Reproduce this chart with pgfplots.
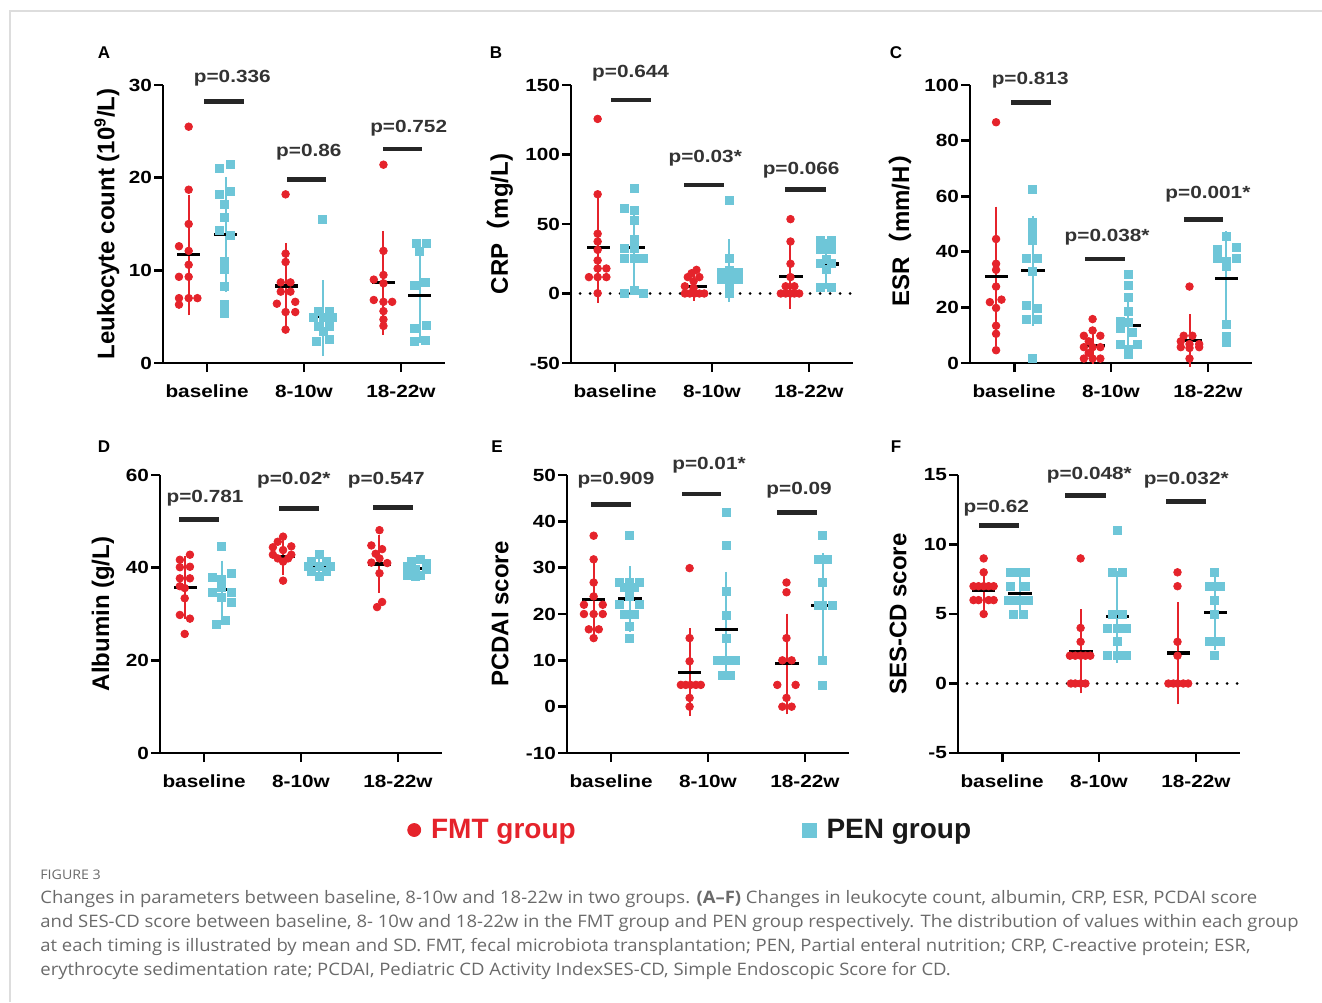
\documentclass[border=0pt]{standalone}
\usepackage{fontspec}
\setmainfont{Liberation Sans}
\newfontfamily\chartfont[FakeStretch=1.18]{Liberation Sans}
\newfontfamily\capfont[FakeStretch=1.075]{Open Sans}
\newfontfamily\cjk{Noto Sans CJK SC}
\usepackage{pgfplots}
\pgfplotsset{compat=1.18}
\definecolor{fmtred}{HTML}{E5232B}
\definecolor{penblue}{HTML}{6EC6D8}
\definecolor{ptext}{HTML}{333333}
\definecolor{capgray}{HTML}{6A6A6A}
\definecolor{framegray}{HTML}{DDDDDD}
\pgfplotsset{
 panel/.style={scale only axis, width=141pt, height=139pt,
  axis x line=bottom, axis y line=left,
  axis line style={-, line width=1.4pt, black},
  xmin=-0.455, xmax=2.455, xtick={0,1,2}, xticklabels={baseline,8-10w,18-22w},
  tick align=outside, major tick length=4.5pt,
  every tick/.style={black, line width=1.4pt},
  ticklabel style={font=\chartfont\bfseries\fontsize{8.8}{10}\selectfont, text=black},
  xticklabel style={yshift=-3pt}, yticklabel style={xshift=2.5pt},
  clip=false},
 fmtpts/.style={only marks, mark=*, mark size=1.9pt, color=fmtred},
 penpts/.style={only marks, mark=square*, mark size=2.0pt, color=penblue},
 sdbar/.style={draw=none, mark=none, error bars/.cd, y dir=both, y explicit,
  error bar style={draw=#1, line width=1pt}, error mark options={draw=#1, line width=1pt, mark size=3.5pt}},
 meanbar/.style={draw=none, mark=none, error bars/.cd, x dir=both, x explicit,
  error mark=none, error bar style={draw=black, line width=1.6pt}},
 sigbar/.style={draw=none, mark=none, error bars/.cd, x dir=both, x explicit,
  error mark=none, error bar style={draw=black!85, line width=2.4pt}},
 zeroline/.style={black, line width=1.5pt, dash pattern=on 0pt off 5pt, line cap=round},
}
\newcommand\pv[3]{\node[font=\chartfont\bfseries\fontsize{8.8}{10}\selectfont, text=ptext] at (axis cs:#1,#2) {#3};}
\begin{document}
\begin{tikzpicture}
\begin{scope}[x=0.5pt,y=-0.5pt]
\path[use as bounding box] (0,0) rectangle (1322,1002);
\draw[framegray, line width=1pt] (10,1002) -- (10,11) -- (1322,11);
\end{scope}

% ---------------- A
\begin{axis}[panel, at={(81.5pt,-181.5pt)}, anchor=south west,
 ymin=0, ymax=30, ytick={0,10,20,30}, yticklabels={0,10,20,30}]
\addplot[fmtpts] coordinates {(-0.19,25.5) (-0.19,18.7) (-0.19,15.0) (-0.29,12.6) (-0.19,12.1) (-0.19,10.6) (-0.29,9.3) (-0.19,9.3) (-0.29,7.0) (-0.19,7.0) (-0.10,7.0) (-0.29,6.3)
 (0.81,18.2) (0.81,11.8) (0.81,10.9) (0.76,8.7) (0.86,8.7) (0.76,7.7) (0.86,7.7) (0.72,6.4) (0.91,6.6) (0.81,5.5) (0.91,5.5) (0.81,3.6)
 (1.82,21.4) (1.82,12.1) (1.82,9.5) (1.72,9.0) (1.82,8.6) (1.72,6.8) (1.91,6.6) (1.82,6.6) (1.82,5.6) (1.82,4.7) (1.82,4.0)};
\addplot[penpts] coordinates {(0.13,21.0) (0.24,21.4) (0.13,18.2) (0.24,18.5) (0.18,17.1) (0.18,15.7) (0.13,14.3) (0.24,13.8) (0.18,11.0) (0.18,10.1) (0.18,8.3) (0.18,6.3) (0.18,5.3)
 (1.19,15.5) (1.15,5.6) (1.26,5.6) (1.10,4.9) (1.20,4.9) (1.29,4.9) (1.15,4.0) (1.26,4.0) (1.20,3.4) (1.13,2.3) (1.26,2.5)
 (2.16,12.9) (2.26,12.9) (2.19,12.0) (2.25,8.7) (2.14,8.4) (2.26,4.1) (2.14,3.7) (2.25,2.4) (2.14,2.3)};
\addplot[sdbar=fmtred] coordinates {(-0.19,11.7) += (0,5.7) -= (0,5.8) (0.81,8.3) += (0,3.9) -= (0,3.7) (1.82,8.7) += (0,4.8) -= (0,4.9)};
\addplot[sdbar=penblue] coordinates {(0.19,13.9) += (0,5.4) -= (0,5.5) (1.20,5.0) += (0,3.2) -= (0,3.5) (2.20,7.3) += (0,4.2) -= (0,4.4)};
\addplot[meanbar] coordinates {(-0.19,11.7) +- (0.12,0) (0.82,8.3) +- (0.12,0) (1.82,8.7) +- (0.12,0) (0.19,13.9) +- (0.12,0) (1.18,5.0) +- (0.12,0) (2.195,7.3) +- (0.12,0)};
\addplot[sigbar] coordinates {(0.176,28.2) +- (0.207,0) (1.027,19.8) +- (0.205,0) (2.015,23.1) +- (0.203,0)};
\pv{0.26}{30.7}{p=0.336}\pv{1.05}{22.7}{p=0.86}\pv{2.08}{25.3}{p=0.752}
\end{axis}

% ---------------- B
\begin{axis}[panel, at={(285.5pt,-181.5pt)}, anchor=south west,
 ymin=-50, ymax=150, ytick={-50,0,50,100,150}, yticklabels={-50,0,50,100,150}]
\addplot[zeroline] coordinates {(-0.36,0) (2.455,0)};
\addplot[fmtpts] coordinates {(-0.18,125.6) (-0.18,71.4) (-0.18,43.0) (-0.18,37.4) (-0.18,31.4) (-0.18,23.8) (-0.18,18.0) (-0.09,18.0) (-0.27,11.8) (-0.18,11.8) (-0.09,11.8) (-0.18,0.2)
 (0.84,17.0) (0.79,14.6) (0.87,11.8) (0.75,11.8) (0.81,8.8) (0.72,5.2) (0.81,4.0) (0.72,0) (0.77,0) (0.82,0) (0.87,0) (0.92,0)
 (1.81,53.5) (1.81,37.4) (1.81,21.4) (1.81,11.8) (1.76,5.2) (1.85,5.2) (1.71,0) (1.76,0) (1.81,0) (1.85,0) (1.90,0)};
\addplot[penpts] coordinates {(0.195,75.3) (0.096,60.9) (0.195,59.5) (0.195,52.3) (0.195,38.6) (0.096,32.4) (0.195,32.4) (0.096,25.5) (0.195,25.5) (0.29,25.0) (0.195,2.2) (0.096,0) (0.29,0)
 (1.18,66.7) (1.18,25.0) (1.18,16.4) (1.10,15.4) (1.27,15.4) (1.10,10.5) (1.18,10.0) (1.27,10.5) (1.18,5.2) (1.18,0)
 (2.12,38.0) (2.23,38.0) (2.12,32.0) (2.23,32.0) (2.18,24.3) (2.12,22.0) (2.23,22.0) (2.18,17.0) (2.12,4.4) (2.23,4.4)};
\addplot[sdbar=fmtred] coordinates {(-0.18,33.2) += (0,34.9) -= (0,34.8) (0.81,5.1) += (0,5.3) -= (0,5.3) (1.81,12.1) += (0,18.2) -= (0,18.2)};
\addplot[sdbar=penblue] coordinates {(0.195,33.1) += (0,24.2) -= (0,24.4) (1.18,16.4) += (0,17.6) -= (0,17.3) (2.18,21.3) += (0,13.0) -= (0,13.1)};
\addplot[meanbar] coordinates {(-0.175,33.2) +- (0.12,0) (0.83,5.1) +- (0.12,0) (1.815,12.1) +- (0.12,0) (0.19,33.1) +- (0.12,0) (1.19,16.4) +- (0.12,0) (2.19,21.3) +- (0.12,0)};
\addplot[sigbar] coordinates {(0.165,139.2) +- (0.205,0) (0.918,78.1) +- (0.205,0) (1.966,74.6) +- (0.209,0)};
\pv{0.16}{158.4}{p=0.644}\pv{0.93}{97.3}{p=0.03*}\pv{1.92}{88.9}{p=0.066}
\end{axis}

% ---------------- C
\begin{axis}[panel, at={(485pt,-181.5pt)}, anchor=south west,
 ymin=0, ymax=100, ytick={0,20,40,60,80,100}, yticklabels={0,20,40,60,80,100}]
\addplot[fmtpts] coordinates {(-0.186,86.6) (-0.186,44.6) (-0.186,35.7) (-0.186,33.5) (-0.186,27.5) (-0.25,21.9) (-0.13,22.8) (-0.186,19.8) (-0.186,13.4) (-0.186,10.5) (-0.186,4.6)
 (0.81,15.8) (0.81,11.7) (0.72,9.8) (0.89,9.8) (0.77,7.8) (0.72,5.7) (0.81,5.7) (0.89,5.7) (0.77,3.6) (0.72,1.6) (0.81,1.6) (0.89,1.6)
 (1.81,27.5) (1.75,9.8) (1.84,9.8) (1.72,7.8) (1.91,6.8) (1.81,6.8) (1.72,5.7) (1.81,5.4) (1.91,5.7) (1.81,1.6)};
\addplot[penpts] coordinates {(0.19,62.6) (0.19,50.7) (0.19,47.9) (0.19,46.1) (0.19,44.1) (0.13,37.7) (0.245,37.7) (0.19,32.9) (0.13,20.7) (0.245,19.8) (0.13,15.8) (0.245,15.8) (0.19,1.6)
 (1.18,31.7) (1.18,27.8) (1.18,23.7) (1.18,18.6) (1.10,15.0) (1.18,14.6) (1.10,12.6) (1.22,11.0) (1.10,6.8) (1.27,6.8) (1.18,5.0) (1.18,3.0)
 (2.19,45.7) (2.10,41.0) (2.29,41.7) (2.10,37.7) (2.29,37.7) (2.19,36.5) (2.19,34.7) (2.19,13.8) (2.19,9.6) (2.19,7.5)};
\addplot[sdbar=fmtred] coordinates {(-0.186,31.2) += (0,22.5) -= (0,22.5) (0.81,6.3) += (0,4.1) -= (0,4.1) (1.81,8.1) += (0,6.9) -= (0,6.9)};
\addplot[sdbar=penblue] coordinates {(0.19,33.2) += (0,17.3) -= (0,17.4) (1.18,13.4) += (0,8.8) -= (0,8.8) (2.19,30.5) += (0,14.4) -= (0,14.3)};
\addplot[meanbar] coordinates {(-0.18,31.2) +- (0.12,0) (0.82,6.3) +- (0.12,0) (1.815,8.1) +- (0.12,0) (0.195,33.2) +- (0.12,0) (1.185,13.4) +- (0.12,0) (2.19,30.5) +- (0.12,0)};
\addplot[sigbar] coordinates {(0.178,93.8) +- (0.205,0) (0.941,37.4) +- (0.207,0) (1.955,51.5) +- (0.204,0)};
\pv{0.166}{101.8}{p=0.813}\pv{0.96}{45.1}{p=0.038*}\pv{2.0}{60.7}{p=0.001*}
\end{axis}

% ---------------- D
\begin{axis}[panel, at={(80pt,-376.5pt)}, anchor=south west,
 ymin=0, ymax=60, ytick={0,20,40,60}, yticklabels={0,20,40,60}]
\addplot[fmtpts] coordinates {(-0.146,42.8) (-0.25,41.7) (-0.146,40.2) (-0.25,40.1) (-0.25,37.7) (-0.146,37.7) (-0.25,36.0) (-0.20,35.6) (-0.20,33.4) (-0.25,29.8) (-0.146,29.0) (-0.20,25.7)
 (0.815,46.7) (0.76,45.6) (0.71,44.4) (0.90,44.6) (0.815,43.8) (0.71,42.8) (0.90,42.8) (0.76,42.0) (0.867,42.0) (0.815,41.3) (0.815,37.2)
 (1.81,48.1) (1.726,44.8) (1.837,44.0) (1.77,43.0) (1.81,42.0) (1.726,41.1) (1.89,41.0) (1.81,38.8) (1.837,32.6) (1.785,31.5)};
\addplot[penpts] coordinates {(0.18,44.7) (0.277,38.7) (0.087,37.9) (0.18,37.5) (0.087,34.6) (0.277,34.6) (0.18,35.8) (0.277,32.5) (0.225,28.6) (0.13,27.7) (0.18,33.5)
 (1.19,42.8) (1.11,41.3) (1.265,41.3) (1.075,40.2) (1.19,40.2) (1.30,40.2) (1.11,39.2) (1.265,39.2) (1.19,38.1)
 (2.235,41.8) (2.14,41.3) (2.29,40.9) (2.10,40.2) (2.18,39.7) (2.29,39.7) (2.10,38.4) (2.235,38.4) (2.18,38.2)};
\addplot[sdbar=fmtred] coordinates {(-0.20,35.75) += (0,5.35) -= (0,5.35) (0.815,42.35) += (0,2.45) -= (0,2.45) (1.81,40.8) += (0,4.7) -= (0,4.7)};
\addplot[sdbar=penblue] coordinates {(0.18,35.25) += (0,4.75) -= (0,4.75) (1.19,40.25) += (0,1.05) -= (0,1.05) (2.18,39.75) += (0,0.95) -= (0,0.95)};
\addplot[meanbar] coordinates {(-0.19,35.75) +- (0.12,0) (0.815,42.35) +- (0.12,0) (1.81,40.8) +- (0.12,0) (0.18,35.25) +- (0.12,0) (1.19,40.25) +- (0.12,0) (2.19,39.75) +- (0.12,0)};
\addplot[sigbar] coordinates {(-0.052,50.4) +- (0.208,0) (0.981,52.7) +- (0.208,0) (1.95,53.0) +- (0.208,0)};
\pv{0.01}{55.0}{p=0.781}\pv{0.925}{58.9}{p=0.02*}\pv{1.88}{58.9}{p=0.547}
\end{axis}

% ---------------- E
\begin{axis}[panel, at={(283.5pt,-376.5pt)}, anchor=south west,
 ymin=-10, ymax=50, ytick={-10,0,10,20,30,40,50}, yticklabels={-10,0,10,20,30,40,50},
 legend columns=2,
 legend style={at={(axis description cs:-0.589,-0.277)}, anchor=west, draw=none, fill=none,
  font=\bfseries\fontsize{14}{16}\selectfont,
  /tikz/every odd column/.append style={column sep=3pt},
  /tikz/every even column/.append style={column sep=111pt}}]
\addplot[fmtpts, legend image code/.code={\fill[fmtred] (0pt,0pt) circle (3.25pt);}] coordinates {(-0.18,36.9) (-0.18,31.8) (-0.18,26.8) (-0.18,23.8) (-0.28,22.0) (-0.086,22.0) (-0.28,20.0) (-0.18,20.0) (-0.086,20.0) (-0.23,16.7) (-0.127,16.7) (-0.18,14.8)
 (0.81,29.9) (0.81,14.8) (0.81,9.8) (0.72,4.7) (0.77,4.7) (0.82,4.7) (0.875,4.7) (0.926,4.7) (0.81,1.9) (0.81,0)
 (1.81,26.8) (1.81,24.7) (1.81,14.8) (1.767,10) (1.863,10) (1.715,4.7) (1.904,4.7) (1.81,1.9) (1.767,0) (1.863,0)};
\addlegendentry[text=fmtred]{FMT group}
\addplot[penpts, legend image code/.code={\fill[penblue] (-3.5pt,-3.5pt) rectangle (3.5pt,3.5pt);}] coordinates {(0.19,36.9) (0.086,26.8) (0.19,26.8) (0.29,26.8) (0.137,25.8) (0.24,25.8) (0.19,23.8) (0.086,22.0) (0.29,22.0) (0.137,20.0) (0.24,20.0) (0.19,17.3) (0.19,14.8)
 (1.19,41.9) (1.19,34.8) (1.19,24.8) (1.19,19.8) (1.19,14.8) (1.10,10) (1.15,10) (1.235,10) (1.286,10) (1.15,6.7) (1.235,6.7)
 (2.185,36.9) (2.137,31.8) (2.23,31.8) (2.185,26.8) (2.137,21.8) (2.185,21.8) (2.28,21.8) (2.185,10) (2.185,4.7)};
\addlegendentry[text=black!90]{PEN group}
\addplot[sdbar=fmtred] coordinates {(-0.18,23.05) += (0,6.85) -= (0,6.85) (0.81,7.45) += (0,7.95) -= (0,7.95) (1.81,9.3) += (0,9.3) -= (0,9.46)};
\addplot[sdbar=penblue] coordinates {(0.19,23.25) += (0,5.55) -= (0,5.55) (1.19,16.6) += (0,11.0) -= (0,9.0) (2.185,21.8) += (0,9.9) -= (0,10.4)};
\addplot[meanbar] coordinates {(-0.18,23.05) +- (0.12,0) (0.81,7.45) +- (0.12,0) (1.815,9.3) +- (0.12,0) (0.195,23.25) +- (0.12,0) (1.19,16.6) +- (0.12,0) (2.185,21.8) +- (0.12,0)};
\addplot[sigbar] coordinates {(0.0,43.7) +- (0.206,0) (0.9325,45.9) +- (0.206,0) (1.921,41.9) +- (0.206,0)};
\pv{0.05}{48.8}{p=0.909}\pv{1.01}{52.2}{p=0.01*}\pv{1.94}{46.8}{p=0.09}
\end{axis}

% ---------------- F
\begin{axis}[panel, at={(479pt,-376.5pt)}, anchor=south west,
 ymin=-5, ymax=15, ytick={-5,0,5,10,15}, yticklabels={-5,0,5,10,15}]
\addplot[zeroline] coordinates {(-0.36,0) (2.455,0)};
\addplot[fmtpts] coordinates {(-0.19,9) (-0.19,8) (-0.295,7) (-0.243,7) (-0.19,7) (-0.139,7) (-0.087,7) (-0.295,6) (-0.243,6) (-0.139,6) (-0.087,6) (-0.19,5)
 (0.81,9) (0.81,4) (0.81,3) (0.70,2) (0.755,2) (0.81,2) (0.86,2) (0.91,2) (0.71,0) (0.755,0) (0.81,0) (0.86,0)
 (1.81,8) (1.81,7) (1.81,3) (1.81,2) (1.716,0) (1.768,0) (1.81,0) (1.87,0) (1.92,0)};
\addplot[penpts] coordinates {(0.085,8) (0.17,8) (0.245,8) (0.085,7) (0.245,7) (0.065,6) (0.118,6) (0.17,6) (0.222,6) (0.275,6) (0.118,5) (0.222,5)
 (1.185,11) (1.133,8) (1.237,8) (1.133,5) (1.237,5) (1.09,4) (1.28,4) (1.185,4) (1.185,3) (1.09,2) (1.185,2) (1.28,2)
 (2.19,8) (2.14,7) (2.25,7) (2.19,6) (2.19,5) (2.14,3) (2.25,3) (2.19,2)};
\addplot[sdbar=fmtred] coordinates {(-0.19,6.7) += (0,1.05) -= (0,1.1) (0.81,2.3) += (0,2.55) -= (0,2.5) (1.81,2.2) += (0,3.15) -= (0,3.2)};
\addplot[sdbar=penblue] coordinates {(0.185,6.5) += (0,1.0) -= (0,1.1) (1.19,4.8) += (0,2.8) -= (0,2.8) (2.2,5.1) += (0,2.2) -= (0,2.2)};
\addplot[meanbar] coordinates {(-0.19,6.7) +- (0.12,0) (0.815,2.3) +- (0.12,0) (1.82,2.2) +- (0.12,0) (0.185,6.5) +- (0.12,0) (1.19,4.8) +- (0.12,0) (2.2,5.1) +- (0.12,0)};
\addplot[sigbar] coordinates {(-0.035,11.36) +- (0.208,0) (0.86,13.5) +- (0.208,0) (1.90,13.1) +- (0.208,0)};
\pv{-0.06}{12.6}{p=0.62}\pv{0.9}{15.0}{p=0.048*}\pv{1.9}{14.6}{p=0.032*}
\end{axis}

\begin{scope}[x=0.5pt,y=-0.5pt]
% panel letters
\foreach \lab/\px/\py in {A/104/53, B/496/53, C/896/53, D/104/447, E/497/447, F/896/447}
  \node[font=\bfseries\fontsize{8.5}{10}\selectfont] at (\px,\py) {\lab};
% y labels
\tikzset{yl/.style={rotate=90, font=\bfseries\fontsize{12}{14}\selectfont, inner sep=0pt}}
\node[yl] at (107,224) {Leukocyte count (10\textsuperscript{9}/L)};
\node[yl] at (500,224) {CRP{\cjk\bfseries （}mg/L)};
\node[yl] at (900,224) {ESR{\cjk\bfseries （}mm/H{\cjk\bfseries ）}};
\node[yl] at (103,614) {Albumin (g/L)};
\node[yl] at (500,614) {PCDAI score};
\node[yl] at (898,614) {SES-CD score};
% caption
\node[anchor=base west, inner sep=0pt, text=capgray, font=\capfont\fontsize{6.6}{8}\selectfont] at (40,879) {FIGURE 3};
\tikzset{cl/.style={anchor=base west, inner sep=0pt, text=capgray, font=\capfont\fontsize{8.6}{10}\selectfont}}
\node[cl] at (40,903) {Changes in parameters between baseline, 8-10w and 18-22w in two groups. \textbf{(A–F)} Changes in leukocyte count, albumin, CRP, ESR, PCDAI score};
\node[cl] at (40,927) {and SES-CD score between baseline, 8- 10w and 18-22w in the FMT group and PEN group respectively. The distribution of values within each group};
\node[cl] at (40,951) {at each timing is illustrated by mean and SD. FMT, fecal microbiota transplantation; PEN, Partial enteral nutrition; CRP, C-reactive protein; ESR,};
\node[cl] at (40,975) {erythrocyte sedimentation rate; PCDAI, Pediatric CD Activity IndexSES-CD, Simple Endoscopic Score for CD.};
\end{scope}
\end{tikzpicture}
\end{document}
